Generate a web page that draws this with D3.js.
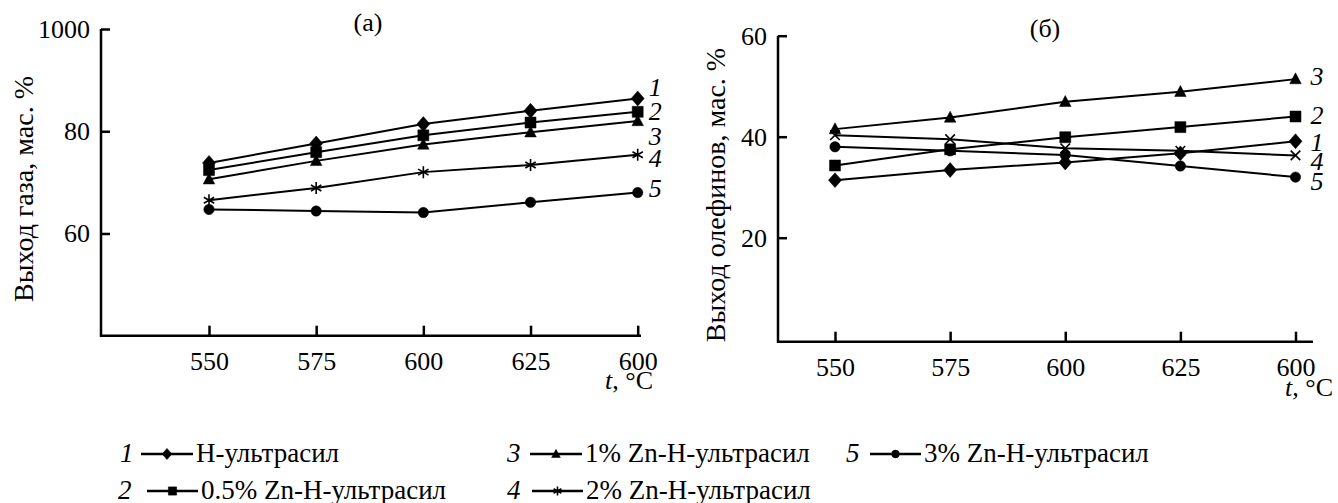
<!DOCTYPE html>
<html>
<head>
<meta charset="utf-8">
<script src="https://cdn.jsdelivr.net/npm/d3@7"></script>
<style>
  body { margin: 0; background: #fff; }
</style>
</head>
<body>
<div id="chart"></div>
<script>
// temperatures and tick labels (last label really reads "600" in the source figure)
var temps = [550, 575, 600, 625, 650];
var tempLabels = ["550", "575", "600", "625", "600"];

// (a) gas yield, wt %
var gasH   = [73.8, 77.6, 81.4, 84.0, 86.4];
var gas05  = [72.4, 75.9, 79.2, 81.7, 83.8];
var gas1   = [70.6, 74.2, 77.4, 79.8, 82.0];
var gas2   = [66.5, 68.9, 72.0, 73.4, 75.4];
var gas3   = [64.7, 64.4, 64.1, 66.1, 68.0];
var gasTicks = [60, 80, 100];
var gasTickLabels = ["60", "80", "1000"];

// (b) olefin yield, wt %
var olefH  = [31.4, 33.4, 34.9, 36.7, 39.1];
var olef05 = [34.3, 37.5, 39.9, 41.9, 44.0];
var olef1  = [41.5, 43.8, 46.9, 48.9, 51.4];
var olef2  = [40.3, 39.5, 37.7, 37.2, 36.3];
var olef3  = [38.0, 37.2, 36.4, 34.2, 32.0];
var olefTicks = [20, 40, 60];
var olefTickLabels = ["20", "40", "60"];

var seriesNums = ["1", "2", "3", "4", "5"];
var legendNames = ["Н-ультрасил", "0.5% Zn-Н-ультрасил", "1% Zn-Н-ультрасил",
                   "2% Zn-Н-ультрасил", "3% Zn-Н-ультрасил"];

var W = 1338, H = 503;
var FS = 26;        // ticks, labels
var FS_LEG = 27;    // legend
var FS_TITLE = 28;  // axis titles
var FONT = "Liberation Serif";

var svg = d3.select("#chart").append("svg")
    .attr("width", W)
    .attr("height", H)
    .attr("font-family", FONT)
    .attr("font-size", FS);

// marker shapes, s = half size
function markerPath(type, s) {
  switch (type) {
    case "diamond":
      return "M0," + (-s * 1.15) + "L" + s + ",0L0," + (s * 1.15) + "L" + (-s) + ",0Z";
    case "square":
      return "M" + (-s) + "," + (-s) + "H" + s + "V" + s + "H" + (-s) + "Z";
    case "triangle":
      return "M0," + (-s * 1.15) + "L" + (s * 1.05) + "," + (s * 0.85) + "L" + (-s * 1.05) + "," + (s * 0.85) + "Z";
    case "circle":
      return "M" + s + ",0A" + s + "," + s + " 0 1,1 " + (-s) + ",0A" + s + "," + s + " 0 1,1 " + s + ",0Z";
    case "asterisk":
      var a = s * 0.866, b = s * 0.5;
      return "M0," + (-s) + "V" + s +
             "M" + (-a) + "," + (-b) + "L" + a + "," + b +
             "M" + (-a) + "," + b + "L" + a + "," + (-b);
    case "times":
      var c = s * 0.8;
      return "M" + (-c) + "," + (-c) + "L" + c + "," + c + "M" + (-c) + "," + c + "L" + c + "," + (-c);
  }
}
var strokeOnly = { asterisk: true, times: true };
var markerSize = { diamond: 6.5, square: 5.5, triangle: 5.5, circle: 5.2, asterisk: 6, times: 6 };

function drawMarker(g, type, x, y, scale) {
  var k = scale || 1;
  g.append("path")
    .attr("transform", "translate(" + x + "," + y + ")")
    .attr("d", markerPath(type, markerSize[type] * k))
    .attr("fill", strokeOnly[type] ? "none" : "#000")
    .attr("stroke", "#000")
    .attr("stroke-width", strokeOnly[type] ? 1.6 : 0.5);
}

function txt(sel, size) {
  return sel.attr("font-family", FONT).attr("font-size", size || FS).attr("fill", "#000");
}

var panels = [
  {
    title: "(а)", titleX: 368, titleY: 31,
    series: [gasH, gas05, gas1, gas2, gas3],
    markers: ["diamond", "square", "triangle", "asterisk", "circle"],
    yDomain: [40, 100], yRange: [335.7, 29],
    yTicks: gasTicks, yLabels: gasTickLabels,
    xRange: [209, 637.7],
    axisX: 101, axisEnd: 641, axisBottom: 335.7,
    yTitle: "Выход газа, мас. %", yTitleX: 33, yTitleY: 189,
    unitX: 605, unitY: 389,
    labelDx: 11, labelDy: [-3, 8, 24, 12, 4]
  },
  {
    title: "(б)", titleX: 1045, titleY: 37,
    series: [olefH, olef05, olef1, olef2, olef3],
    markers: ["diamond", "square", "triangle", "times", "circle"],
    yDomain: [0, 60], yRange: [338.7, 35.7],
    yTicks: olefTicks, yLabels: olefTickLabels,
    xRange: [835, 1295.5],
    axisX: 778, axisEnd: 1313, axisBottom: 341.7,
    yTitle: "Выход олефинов, мас. %", yTitleX: 725, yTitleY: 195,
    unitX: 1285, unitY: 396,
    labelDx: 15, labelDy: [10, 7, 6, 15, 13]
  }
];

panels.forEach(function(p) {
  var x = d3.scaleLinear().domain([temps[0], temps[temps.length - 1]]).range(p.xRange);
  var y = d3.scaleLinear().domain(p.yDomain).range(p.yRange);
  var g = svg.append("g");

  // y axis, ticks pointing inward
  var yAxis = g.append("g")
    .attr("transform", "translate(" + p.axisX + ",0)")
    .call(d3.axisLeft(y).tickValues(p.yTicks)
      .tickFormat(function(d, i) { return p.yLabels[i]; })
      .tickSize(-9).tickPadding(11));
  yAxis.attr("font-family", FONT).attr("font-size", FS);
  yAxis.select(".domain").remove();
  yAxis.selectAll(".tick line").attr("stroke", "#000").attr("stroke-width", 2.5);
  txt(yAxis.selectAll(".tick text"));

  // x axis
  var xAxis = g.append("g")
    .attr("transform", "translate(0," + p.axisBottom + ")")
    .call(d3.axisBottom(x).tickValues(temps)
      .tickFormat(function(d, i) { return tempLabels[i]; })
      .tickSize(-10).tickPadding(16));
  xAxis.attr("font-family", FONT).attr("font-size", FS);
  xAxis.select(".domain").remove();
  xAxis.selectAll(".tick line").attr("stroke", "#000").attr("stroke-width", 2.5);
  txt(xAxis.selectAll(".tick text"));

  // axis lines
  g.append("path")
    .attr("d", "M" + p.axisX + "," + y(p.yTicks[p.yTicks.length - 1]) +
               "V" + p.axisBottom + "H" + p.axisEnd)
    .attr("fill", "none")
    .attr("stroke", "#000")
    .attr("stroke-width", 2.5);

  var line = d3.line()
    .x(function(d, i) { return x(temps[i]); })
    .y(function(d) { return y(d); });

  p.series.forEach(function(vals, si) {
    g.append("path")
      .datum(vals)
      .attr("d", line)
      .attr("fill", "none")
      .attr("stroke", "#000")
      .attr("stroke-width", 2);
    vals.forEach(function(v, i) {
      drawMarker(g, p.markers[si], x(temps[i]), y(v));
    });
    var last = vals[vals.length - 1];
    txt(g.append("text"))
      .attr("x", x(temps[temps.length - 1]) + p.labelDx)
      .attr("y", y(last) + p.labelDy[si])
      .attr("font-style", "italic")
      .text(seriesNums[si]);
  });

  // panel title
  txt(g.append("text"))
    .attr("x", p.titleX).attr("y", p.titleY)
    .attr("text-anchor", "middle")
    .text(p.title);

  // y title
  txt(g.append("text"), FS_TITLE)
    .attr("transform", "translate(" + p.yTitleX + "," + p.yTitleY + ") rotate(-90)")
    .attr("text-anchor", "middle")
    .text(p.yTitle);

  // x unit
  var u = txt(g.append("text"))
    .attr("x", p.unitX).attr("y", p.unitY);
  u.append("tspan").attr("font-style", "italic").text("t");
  u.append("tspan").text(", °C");
});

// legend
var legendPos = [
  { x: 120, y: 462 }, { x: 118, y: 499 }, { x: 507, y: 462 },
  { x: 507, y: 499 }, { x: 846, y: 462 }
];
var legendLine = [
  [141, 193], [147, 198], [530, 582], [532, 583], [870, 921]
];
var legendMarkers = ["diamond", "square", "triangle", "asterisk", "circle"];

var lg = svg.append("g");
legendNames.forEach(function(name, i) {
  var pos = legendPos[i], ln = legendLine[i];
  var cy = pos.y - 8;
  txt(lg.append("text"), FS_LEG)
    .attr("x", pos.x).attr("y", pos.y)
    .attr("font-style", "italic")
    .text(seriesNums[i]);
  lg.append("line")
    .attr("x1", ln[0]).attr("x2", ln[1])
    .attr("y1", cy).attr("y2", cy)
    .attr("stroke", "#000").attr("stroke-width", 2.5);
  drawMarker(lg, legendMarkers[i], (ln[0] + ln[1]) / 2, cy, 0.75);
  txt(lg.append("text"), FS_LEG)
    .attr("x", ln[1] + 3).attr("y", pos.y)
    .text(name);
});
</script>
</body>
</html>
